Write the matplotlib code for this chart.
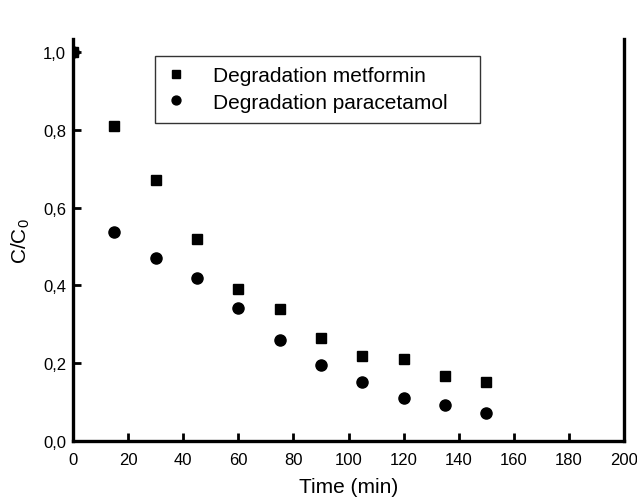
import matplotlib.pyplot as plt
from matplotlib.patches import Rectangle
from matplotlib.ticker import FuncFormatter

plt.rcParams['font.family'] = ['Liberation Sans', 'DejaVu Sans']
plt.rcParams['mathtext.fontset'] = 'custom'
plt.rcParams['mathtext.rm'] = 'Liberation Sans'

# data
time = [0, 15, 30, 45, 60, 75, 90, 105, 120, 135, 150]
metformin = [1.0, 0.81, 0.67, 0.52, 0.39, 0.34, 0.264, 0.218, 0.21, 0.167, 0.151]
paracetamol = [1.0, 0.538, 0.469, 0.418, 0.341, 0.259, 0.195, 0.151, 0.11, 0.092, 0.072]

fig = plt.figure(figsize=(6.37, 5.02), dpi=100)
ax = fig.add_axes([73 / 637, 1 - 442 / 502, 551 / 637, 402 / 502])

ax.plot(time, paracetamol, 'o', color='black', markersize=8, label='Degradation paracetamol')
ax.plot(time, metformin, 's', color='black', markersize=7, label='Degradation metformin')

ax.set_xlim(0, 200)
ax.set_ylim(0, 1.033)
ax.set_xticks(range(0, 201, 20))
ax.set_yticks([0, 0.2, 0.4, 0.6, 0.8, 1.0])
ax.yaxis.set_major_formatter(FuncFormatter(lambda v, p: f'{v:.1f}'.replace('.', ',')))

ax.spines['top'].set_visible(False)
for s in ['left', 'bottom', 'right']:
    ax.spines[s].set_linewidth(2.4)
ax.tick_params(direction='in', length=6, width=2, labelsize=12)
ax.tick_params(axis='x', pad=8)
ax.tick_params(axis='y', pad=5)

ax.set_xlabel('Time (min)', fontsize=15, labelpad=7)
ax.set_ylabel(r'C/C$_\mathregular{0}$', fontsize=15, labelpad=8)

# legend box is wider than its text, so draw the frame separately
bx0, bx1 = (155 - 73) / 551, (480 - 73) / 551
by0, by1 = (442 - 124) / 402, (442 - 57) / 402
ax.add_patch(Rectangle((bx0, by0), bx1 - bx0, by1 - by0, transform=ax.transAxes,
                       facecolor='white', edgecolor='#333333', linewidth=1, zorder=4))

h, l = ax.get_legend_handles_labels()
leg = ax.legend(h[::-1], l[::-1], loc='upper left',
                bbox_to_anchor=(bx0, (442 - 59) / 402),
                borderaxespad=0, frameon=False, fontsize=15, markerscale=0.8,
                handletextpad=1.2, handlelength=1.2, borderpad=0.4,
                labelspacing=0.35)
leg.set_zorder(5)

fig.savefig('out.png', dpi=100)
